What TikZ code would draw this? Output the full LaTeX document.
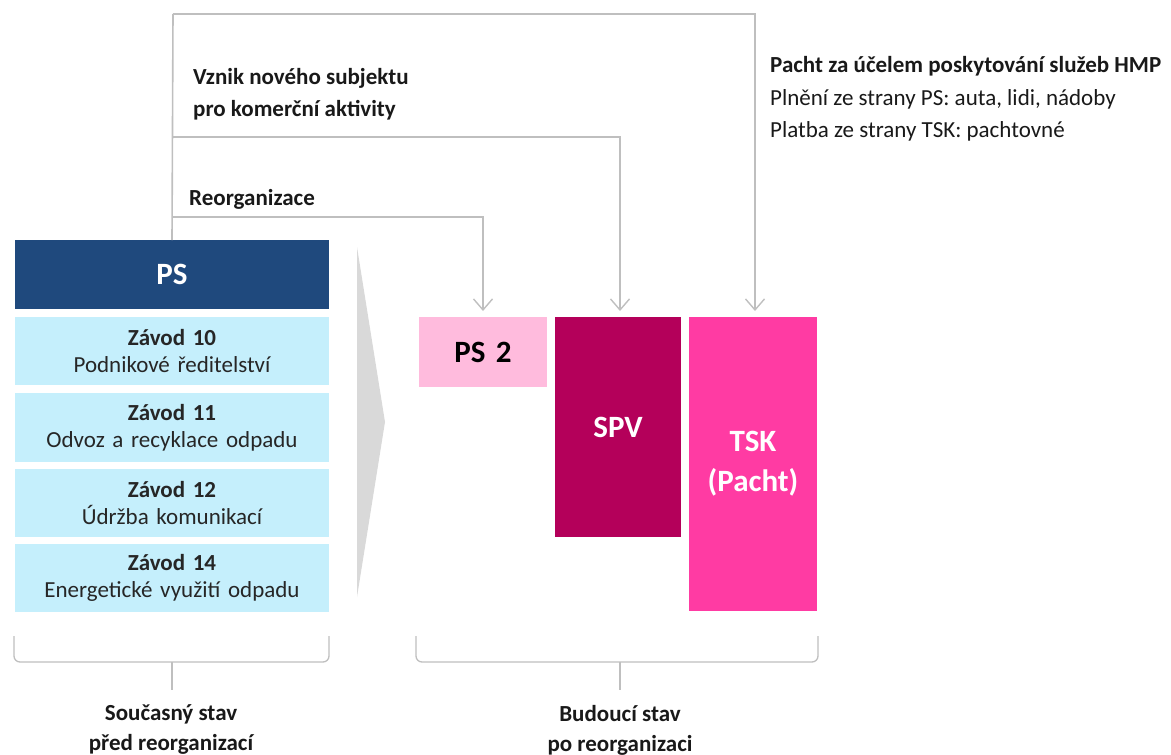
\documentclass[tikz,border=0pt]{standalone}
\usepackage{fontspec}
\setmainfont{Carlito}
\usetikzlibrary{arrows.meta}
\definecolor{psblue}{HTML}{1F497D}
\definecolor{zlight}{HTML}{C5EFFC}
\definecolor{ps2pink}{HTML}{FFBBDD}
\definecolor{spvcol}{HTML}{B4005A}
\definecolor{tskcol}{HTML}{FF3BA3}
\definecolor{linegray}{HTML}{BFBFBF}
\definecolor{chevgray}{HTML}{D9D9D9}
\tikzset{
  boxbase/.style={inner sep=0pt, outer sep=0pt, align=center, text width=#1},
  zbox/.style={boxbase=314pt, fill=zlight, minimum height=68pt, font=\fontsize{23}{27}\selectfont, text=black!85},
  bigbox/.style={boxbase=#1, font=\fontsize{31}{40}\selectfont\bfseries, text=white},
  conn/.style={draw=linegray, line width=1.6pt, -{Straight Barb[length=11pt,width=19pt,line width=1.4pt]}},
  plain/.style={draw=linegray, line width=1.6pt},
  brace/.style={draw=linegray, line width=1.3pt, rounded corners=6pt},
  lbl/.style={inner sep=0pt, align=left, font=\fontsize{23}{32}\selectfont, text=black!90},
  blbl/.style={inner sep=0pt, align=center, font=\fontsize{23}{30}\selectfont\bfseries, text=black!90}
}
\begin{document}
\begin{tikzpicture}[x=1pt,y=-1pt]
\useasboundingbox (0,0) rectangle (1171,755);
% chevron
\fill[chevgray] (357,247) -- (385,422) -- (357,597) -- cycle;
% left column
\node[bigbox=314pt, fill=psblue, minimum height=69pt] (ps) at (172,274.5) {PS};
\node[zbox] (z10) at (172,351) {\textbf{Závod 10}\\Podnikové ředitelství};
\node[zbox, minimum height=69pt] (z11) at (172,427.5) {\textbf{Závod 11}\\Odvoz a recyklace odpadu};
\node[zbox] (z12) at (172,503) {\textbf{Závod 12}\\Údržba komunikací};
\node[zbox] (z14) at (172,578) {\textbf{Závod 14}\\Energetické využití odpadu};
% right boxes
\node[bigbox=128pt, fill=ps2pink, minimum height=70pt, text=black] (ps2) at (483,352) {PS 2};
\node[bigbox=126pt, fill=spvcol, minimum height=220pt] (spv) at (618,427) {SPV};
\node[bigbox=128pt, fill=tskcol, minimum height=294pt, font=\fontsize{31}{40}\selectfont\bfseries] (tsk) at (753,464) {TSK\\(Pacht)};
% connectors
\coordinate (top) at (173,14);
\coordinate (mid) at (173,137);
\coordinate (low) at (173,217);
\draw[plain] (ps.north) -- (top);
\draw[conn] (top) -| ([xshift=2pt,yshift=6pt]tsk.north);
\draw[conn] (mid) -| ([xshift=2pt,yshift=6pt]spv.north);
\draw[conn] (low) -| ([yshift=6pt]ps2.north);
% labels
\node[lbl, anchor=west, font=\fontsize{23}{32}\selectfont\bfseries] (vznik) at (193,94) {Vznik nového subjektu\\pro komerční aktivity};
\node[lbl, anchor=west, font=\fontsize{23}{32}\selectfont\bfseries] (reorg) at (189,199) {Reorganizace};
\node[lbl, anchor=west, font=\fontsize{23}{32.5}\selectfont] (pacht) at (770,99) {\textbf{Pacht za účelem poskytování služeb HMP}\\Plnění ze strany PS: auta, lidi, nádoby\\Platba ze strany TSK: pachtovné};
% braces
\draw[brace] (14,636) -- (14,662) -- (329,662) -- (329,636);
\draw[brace] (172,662) -- (172,690);
\draw[brace] (416,636) -- (416,662) -- (818,662) -- (818,636);
\draw[brace] (620,662) -- (620,690);
\node[blbl] (cur) at (171,730) {Současný stav\\před reorganizací};
\node[blbl] (fut) at (620,730) {Budoucí stav\\po reorganizaci};
\end{tikzpicture}
\end{document}
